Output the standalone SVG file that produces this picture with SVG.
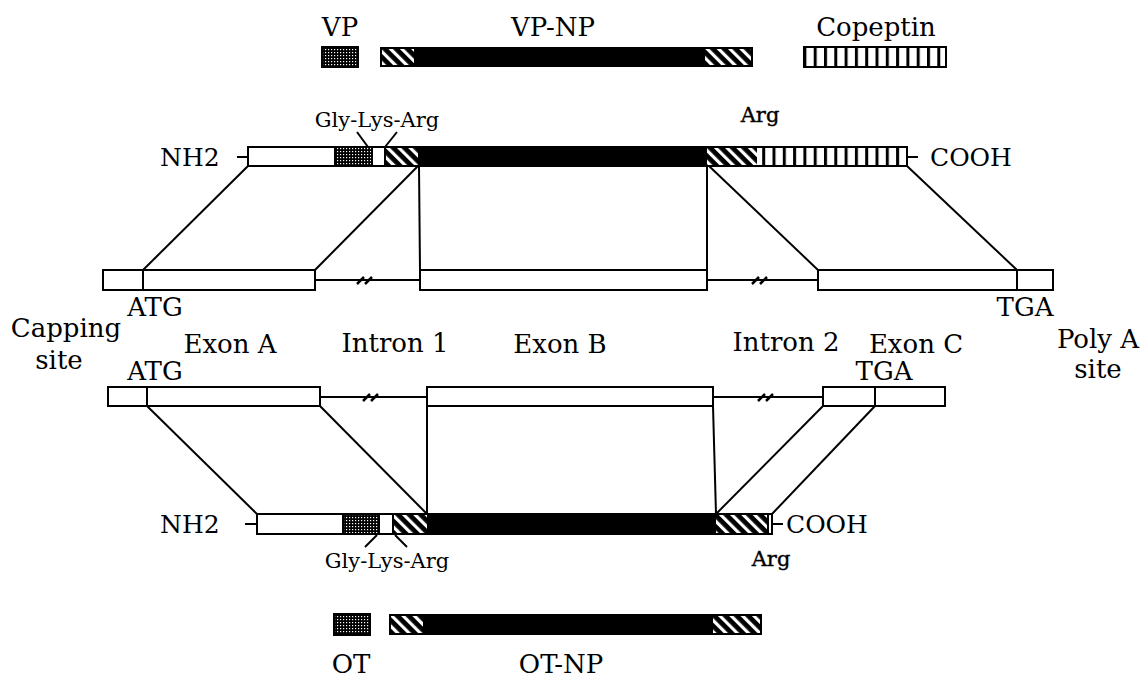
<svg xmlns="http://www.w3.org/2000/svg" width="1147" height="683" viewBox="0 0 1147 683">
<style>
text{font-family:"DejaVu Serif","Liberation Serif",serif;fill:#000}
.lb{font-size:26px}
.tm{font-size:25px}
.sm{font-size:21px}
.box{fill:#fff;stroke:#000;stroke-width:2}
.ln{stroke:#000;stroke-width:2;fill:none}
.brk{stroke:#000;stroke-width:2.5;fill:none}
.out{fill:none;stroke:#000;stroke-width:2}
</style>
<defs>
<pattern id="hatch" width="8" height="8" patternUnits="userSpaceOnUse" patternTransform="rotate(-45)">
<rect width="8" height="8" fill="#000"/><rect x="0" width="3.2" height="8" fill="#fff"/>
</pattern>
<pattern id="stip" width="3" height="3" patternUnits="userSpaceOnUse">
<rect width="3" height="3" fill="#000"/><rect x="1" y="1" width="1.2" height="1.2" fill="#fff"/>
</pattern>
<pattern id="vstr" width="10.3" height="10" patternUnits="userSpaceOnUse">
<rect width="10.3" height="10" fill="#fff"/><rect x="0" width="3" height="10" fill="#000"/>
</pattern>
</defs>

<g id="top-products">
<text class="lb" x="340" y="36" text-anchor="middle">VP</text>
<text class="lb" x="553" y="36" text-anchor="middle">VP-NP</text>
<text class="lb" x="876" y="36" text-anchor="middle">Copeptin</text>
<rect x="322" y="47" width="36" height="20" fill="url(#stip)" stroke="#000" stroke-width="2"/>
<rect x="380" y="47" width="373" height="20" fill="#000"/>
<rect x="382" y="49" width="32" height="16" fill="url(#hatch)"/>
<rect x="705" y="49" width="46" height="16" fill="url(#hatch)"/>
<rect x="804" y="47" width="142" height="20" fill="url(#vstr)" stroke="#000" stroke-width="2"/>
</g>

<g id="vp-precursor">
<text class="tm" x="160" y="166">NH2</text>
<line class="ln" x1="237" y1="157" x2="248" y2="157"/>
<rect x="248" y="147" width="87" height="19" fill="#fff"/>
<rect x="335" y="147" width="37" height="19" fill="url(#stip)"/>
<rect x="372" y="147" width="13" height="19" fill="#fff"/>
<rect x="385" y="147" width="33" height="19" fill="url(#hatch)"/>
<rect x="418" y="147" width="289" height="19" fill="#000"/>
<rect x="707" y="147" width="50" height="19" fill="url(#hatch)"/>
<rect x="757" y="147" width="150" height="19" fill="url(#vstr)"/>
<rect class="out" x="248" y="147" width="659" height="19"/>
<line class="ln" x1="335" y1="147" x2="335" y2="166"/>
<line class="ln" x1="372" y1="147" x2="372" y2="166"/>
<line class="ln" x1="385" y1="147" x2="385" y2="166"/>
<line class="ln" x1="907" y1="157" x2="918" y2="157"/>
<text class="tm" x="930" y="166">COOH</text>
<text class="sm" x="377" y="127" text-anchor="middle">Gly-Lys-Arg</text>
<line class="ln" x1="357" y1="132" x2="368" y2="147"/>
<line class="ln" x1="397" y1="132" x2="385" y2="147"/>
<text class="sm" x="760" y="122" text-anchor="middle" font-size="20" stroke="#000" stroke-width="0.4">Arg</text>
</g>

<g id="vp-gene">
<rect class="box" x="103" y="270" width="40" height="20"/>
<rect class="box" x="143" y="270" width="172" height="20"/>
<rect class="box" x="420" y="270" width="287" height="20"/>
<rect class="box" x="818" y="270" width="199" height="20"/>
<rect class="box" x="1017" y="270" width="36" height="20"/>
<line class="ln" x1="315" y1="280" x2="420" y2="280"/>
<line class="ln" x1="707" y1="280" x2="818" y2="280"/>
<path class="brk" d="M357 284 L364 277 M365 284 L372 277"/>
<path class="brk" d="M752 284 L759 277 M760 284 L767 277"/>
<text class="lb" x="155" y="316" text-anchor="middle">ATG</text>
<text class="lb" x="1025" y="316" text-anchor="middle">TGA</text>
</g>

<g id="gene-labels">
<text class="lb" x="66" y="337" text-anchor="middle">Capping</text>
<text class="lb" x="59" y="369" text-anchor="middle">site</text>
<text class="lb" x="230" y="353" text-anchor="middle">Exon A</text>
<text class="lb" x="395" y="352" text-anchor="middle">Intron 1</text>
<text class="lb" x="560" y="353" text-anchor="middle">Exon B</text>
<text class="lb" x="786" y="351" text-anchor="middle">Intron 2</text>
<text class="lb" x="916" y="353" text-anchor="middle">Exon C</text>
<text class="lb" x="1098" y="348" text-anchor="middle">Poly A</text>
<text class="lb" x="1098" y="378" text-anchor="middle">site</text>
</g>

<g id="ot-gene">
<text class="lb" x="155" y="380" text-anchor="middle">ATG</text>
<text class="lb" x="884" y="380" text-anchor="middle">TGA</text>
<rect class="box" x="108" y="387" width="39" height="19"/>
<rect class="box" x="147" y="387" width="173" height="19"/>
<rect class="box" x="427" y="387" width="286" height="19"/>
<rect class="box" x="823" y="387" width="52" height="19"/>
<rect class="box" x="875" y="387" width="70" height="19"/>
<line class="ln" x1="320" y1="397" x2="427" y2="397"/>
<line class="ln" x1="713" y1="397" x2="823" y2="397"/>
<path class="brk" d="M363 401 L370 394 M371 401 L378 394"/>
<path class="brk" d="M758 401 L765 394 M766 401 L773 394"/>
</g>

<g id="ot-precursor">
<text class="tm" x="160" y="533">NH2</text>
<line class="ln" x1="245" y1="524" x2="257" y2="524"/>
<rect x="257" y="514" width="86" height="20" fill="#fff"/>
<rect x="343" y="514" width="36" height="20" fill="url(#stip)"/>
<rect x="379" y="514" width="14" height="20" fill="#fff"/>
<rect x="393" y="514" width="34" height="20" fill="url(#hatch)"/>
<rect x="427" y="514" width="289" height="20" fill="#000"/>
<rect x="716" y="514" width="52" height="20" fill="url(#hatch)"/>
<rect class="out" x="257" y="514" width="515" height="20"/>
<line class="ln" x1="343" y1="514" x2="343" y2="534"/>
<line class="ln" x1="379" y1="514" x2="379" y2="534"/>
<line class="ln" x1="393" y1="514" x2="393" y2="534"/>
<line class="ln" x1="768" y1="514" x2="768" y2="534"/>
<line class="ln" x1="772" y1="524" x2="783" y2="524"/>
<text class="tm" x="786" y="533">COOH</text>
<line class="ln" x1="377" y1="535" x2="365" y2="547"/>
<line class="ln" x1="395" y1="535" x2="407" y2="547"/>
<text class="sm" x="387" y="568" text-anchor="middle">Gly-Lys-Arg</text>
<text class="sm" x="771" y="566" text-anchor="middle" font-size="20" stroke="#000" stroke-width="0.4">Arg</text>
</g>

<g id="bottom-products">
<rect x="334" y="614" width="36" height="21" fill="url(#stip)" stroke="#000" stroke-width="2"/>
<rect x="389" y="614" width="373" height="21" fill="#000"/>
<rect x="391" y="616" width="32" height="17" fill="url(#hatch)"/>
<rect x="713" y="616" width="47" height="17" fill="url(#hatch)"/>
<text class="lb" x="351" y="673" text-anchor="middle">OT</text>
<text class="lb" x="561" y="673" text-anchor="middle">OT-NP</text>
</g>

<g id="connectors">
<line class="ln" x1="248" y1="166" x2="143" y2="270"/>
<line class="ln" x1="418" y1="166" x2="315" y2="270"/>
<line class="ln" x1="419" y1="166" x2="420" y2="270"/>
<line class="ln" x1="707" y1="166" x2="707" y2="270"/>
<line class="ln" x1="709" y1="166" x2="818" y2="270"/>
<line class="ln" x1="907" y1="166" x2="1017" y2="270"/>
<line class="ln" x1="147" y1="406" x2="257" y2="514"/>
<line class="ln" x1="320" y1="406" x2="427" y2="514"/>
<line class="ln" x1="427" y1="406" x2="427" y2="514"/>
<line class="ln" x1="713" y1="406" x2="716" y2="514"/>
<line class="ln" x1="823" y1="406" x2="716" y2="514"/>
<line class="ln" x1="875" y1="406" x2="772" y2="514"/>
</g>
</svg>
